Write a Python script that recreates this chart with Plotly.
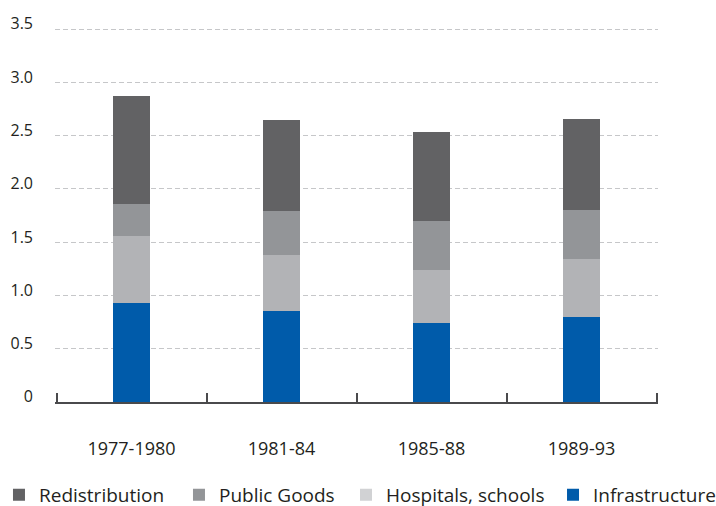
import plotly.graph_objects as go

periods = ["1977-1980", "1981-84", "1985-88", "1989-93"]
infrastructure = [0.93, 0.85, 0.74, 0.80]
hospitals_schools = [0.63, 0.53, 0.50, 0.54]
public_goods = [0.30, 0.41, 0.46, 0.46]
redistribution = [1.01, 0.86, 0.83, 0.86]

y_tickvals = [0, 0.5, 1.0, 1.5, 2.0, 2.5, 3.0, 3.5]
y_ticktext = ["0", "0.5", "1.0", "1.5", "2.0", "2.5", "3.0", "3.5"]

FONT = "'Open Sans', 'Noto Sans', sans-serif"
TEXT = "#231f20"

series = [
    ("Infrastructure", infrastructure, "#005baa", "#005baa"),
    ("Hospitals, schools", hospitals_schools, "#b2b3b6", "#d1d2d4"),
    ("Public Goods", public_goods, "#939598", "#939598"),
    ("Redistribution", redistribution, "#626264", "#626264"),
]

fig = go.Figure()
for name, vals, col, _ in series:
    fig.add_trace(go.Bar(x=periods, y=vals, name=name, marker_color=col,
                         marker_line_width=0, width=0.25, showlegend=False))

# legend entries, one legend box per entry so they sit on one row
legend_ids = ["legend", "legend2", "legend3", "legend4"]
legend_x = [-0.0929, 0.2056, 0.4826, 0.8259]
for lid, (name, vals, _, lcol) in zip(legend_ids, reversed(series)):
    fig.add_trace(go.Bar(x=[None], y=[None], name=name, marker_color=lcol,
                         marker_line_width=0, showlegend=True, legend=lid))

legend_common = dict(orientation="h", xanchor="left", xref="paper",
                     y=-0.299, yanchor="bottom", yref="paper",
                     font=dict(size=19, color=TEXT), itemwidth=30,
                     bgcolor="rgba(0,0,0,0)")
legends = {lid: dict(x=lx, **legend_common) for lid, lx in zip(legend_ids, legend_x)}

fig.update_layout(
    width=716, height=506,
    barmode="stack",
    paper_bgcolor="white", plot_bgcolor="white",
    margin=dict(l=55, r=58, t=28, b=104, autoexpand=False),
    font=dict(family=FONT, size=18, color=TEXT),
    xaxis=dict(type="category", range=[-0.51, 3.51], showline=True,
               linecolor="#4a4a4c", linewidth=2, ticks="inside",
               tickson="boundaries", ticklen=9, tickwidth=2,
               tickcolor="#4a4a4c", showgrid=False, tickangle=0,
               ticklabelstandoff=29, tickfont=dict(size=18, color=TEXT)),
    yaxis=dict(range=[0, 3.51], tickvals=y_tickvals, ticktext=y_ticktext,
               showgrid=True, gridcolor="#c6c7c9", gridwidth=1.3,
               griddash="5px,3px", zeroline=False, showline=False,
               ticks="", ticklabelposition="outside top",
               ticklabelstandoff=21, ticklabelshift=6,
               tickfont=dict(size=16, color=TEXT)),
    **legends,
)

fig.write_html("out.html",
               config={"displayModeBar": False},
               post_script="document.body.style.margin='0';document.body.style.padding='0';")
